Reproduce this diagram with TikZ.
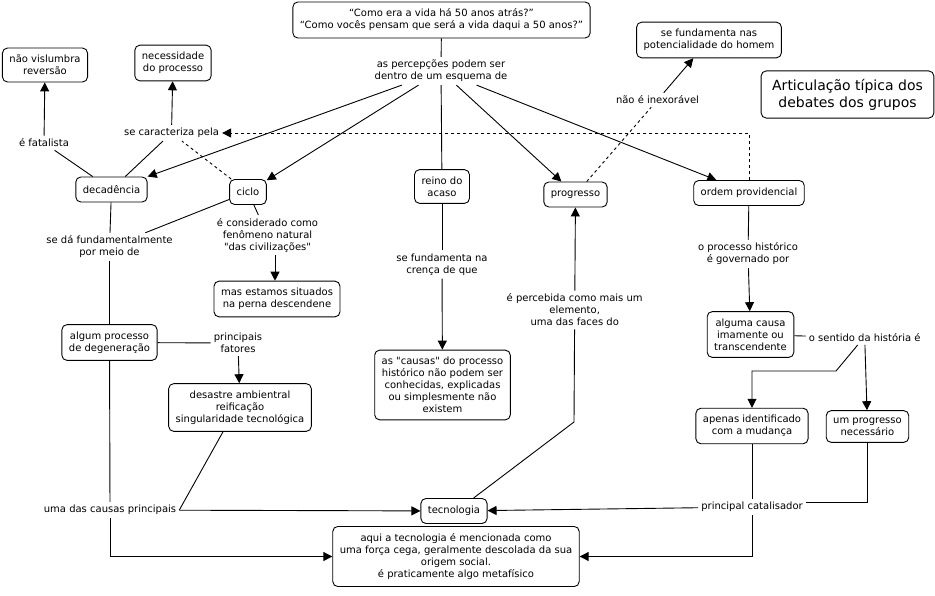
\documentclass[tikz,border=0pt]{standalone}
\usepackage{fontspec}
\setmainfont{DejaVu Sans}[Ligatures=TeXOff]
\usetikzlibrary{arrows.meta}
\tikzset{
  concept/.style={draw,rounded corners=5pt,align=center,inner xsep=7pt,inner ysep=7pt,
    minimum height=25pt,line width=0.9pt,font=\fontsize{10}{12}\selectfont},
  phrase/.style={align=center,inner sep=3pt,font=\fontsize{10}{12}\selectfont},
  link/.style={line width=0.9pt},
  linkto/.style={line width=0.9pt,-{Triangle[length=9pt,width=9pt]}}
}
\begin{document}
\begin{tikzpicture}[x=1pt,y=-1pt]
       \useasboundingbox (0,0) rectangle (935,595);
       % concepts
       \node at (441.5,20) [concept] (q) {“Como era a vida há 50 anos atrás?”\\“Como vocês pensam que será a vida daqui a 50 anos?”};
       \node at (45,65) [concept] (nvr) {não vislumbra\\reversão};
       \node at (173,63) [concept] (nec) {necessidade\\do processo};
       \node at (111.5,189.5) [concept] (dec) {decadência};
       \node at (248,192) [concept] (ciclo) {ciclo};
       \node at (442,186.5) [concept] (reino) {reino do\\acaso};
       \node at (575.5,194.5) [concept] (prog) {progresso};
       \node at (749,193) [concept] (ordem) {ordem providencial};
       \node at (709,40) [concept] (fund) {se fundamenta nas\\potencialidade do homem};
       \node at (847.5,94.5) [concept,inner xsep=11pt,inner ysep=8pt,
          font=\fontsize{14}{17}\selectfont] (title) {Articulação típica dos\\debates dos grupos};
       \node at (277,299) [concept] (mas) {mas estamos situados\\na perna descendene};
       \node at (109.5,342.5) [concept] (alg) {algum processo\\de degeneração};
       \node at (240,407.5) [concept] (des) {desastre ambientral\\reificação\\singularidade tecnológica};
       \node at (442.5,385) [concept] (causas) {as "causas" do processo\\histórico não podem ser\\conhecidas, explicadas\\ou simplesmente não\\existem};
       \node at (454,511) [concept] (tec) {tecnologia};
       \node at (456,556.5) [concept] (aqui) {aqui a tecnologia é mencionada como\\uma força cega, geralmente descolada da sua\\origem social.\\é praticamente algo metafísico};
       \node at (750.5,334.5) [concept] (alguma) {alguma causa\\imamente ou\\transcendente};
       \node at (752,426) [concept] (apenas) {apenas identificado\\com a mudança};
       \node at (867.5,426.5) [concept] (umprog) {um progresso\\necessário};
       % linking phrases
       \node at (441,71) [phrase] (perc) {as percepções podem ser\\dentro de um esquema de};
       \node at (44,143) [phrase] (fat) {é fatalista};
       \node at (171.5,133) [phrase] (secar) {se caracteriza pela};
       \node at (657.5,100) [phrase] (inex) {não é inexorável};
       \node at (109.5,247) [phrase] (seda) {se dá fundamentalmente\\por meio de};
       \node at (267.5,235) [phrase] (cons) {é considerado como\\fenômeno natural\\"das civilizações"};
       \node at (238,343) [phrase] (princ) {principais\\fatores};
       \node at (110,510) [phrase] (ucp) {uma das causas principais};
       \node at (442,264.5) [phrase] (sefn) {se fundamenta na\\crença de que};
       \node at (574.7,310) [phrase] (perceb) {é percebida como mais um\\elemento,\\uma das faces do};
       \node at (748,254) [phrase] (oph) {o processo histórico\\é governado por};
       \node at (864.7,337.7) [phrase] (osh) {o sentido da história é};
       \node at (752,507) [phrase] (pc) {principal catalisador};
       \coordinate (bend) at (574,422);
       \coordinate (knee) at (836,371);
       % connectors
       \draw [link] (q) -- (perc);
       \draw [linkto] (perc) -- (dec);
       \draw [linkto] (perc) -- (ciclo);
       \draw [link] (perc) -- (reino);
       \draw [linkto] (perc) -- (prog);
       \draw [linkto] (perc) -- (ordem);
       \draw [link] (dec) -- (fat);
       \draw [linkto] (fat) -- (nvr);
       \draw [link] (dec) -- (secar);
       \draw [linkto] (secar) -- (nec);
       \draw [link,dashed] (ciclo) -- (secar);
       \draw [linkto,dashed] (ordem) |- (secar);
       \draw [link] (dec) -- (seda);
       \draw [link] (ciclo) -- (seda);
       \draw [link] (seda) -- (alg);
       \draw [link] (ciclo) -- (cons);
       \draw [linkto] ([xshift=-2pt]cons.south -| mas.north) -- ([xshift=-2pt]mas.north);
       \draw [link] (alg) -- (princ);
       \draw [linkto] (princ) -- (des);
       \draw [link] (alg) -- (ucp);
       \draw [link] ([xshift=-17pt]des.south) -- (ucp.east);
       \draw [linkto] (ucp) -- (tec);
       \draw [linkto] (ucp) |- (aqui);
       \draw [link] (reino) -- (sefn);
       \draw [linkto] (sefn) -- (causas);
       \draw [link] ([xshift=-14pt]tec.north east) -- (bend) -- (perceb);
       \draw [linkto] (perceb) -- (prog);
       \draw [link,dashed] (prog) -- (inex);
       \draw [linkto] (inex) -- (fund);
       \draw [link] (ordem) -- (oph);
       \draw [linkto] (oph) -- (alguma);
       \draw [link] (alguma) -- (osh);
       \draw [linkto] ([xshift=-7pt]osh.south) -- (knee) -| (apenas);
       \draw [linkto] (osh) -- (umprog);
       \draw [link] (apenas) -- (pc);
       \draw [link] (umprog) |- ([yshift=5pt]pc.east);
       \draw [linkto] (pc) -- (tec);
       \draw [linkto] (pc) |- (aqui);
\end{tikzpicture}
\end{document}
